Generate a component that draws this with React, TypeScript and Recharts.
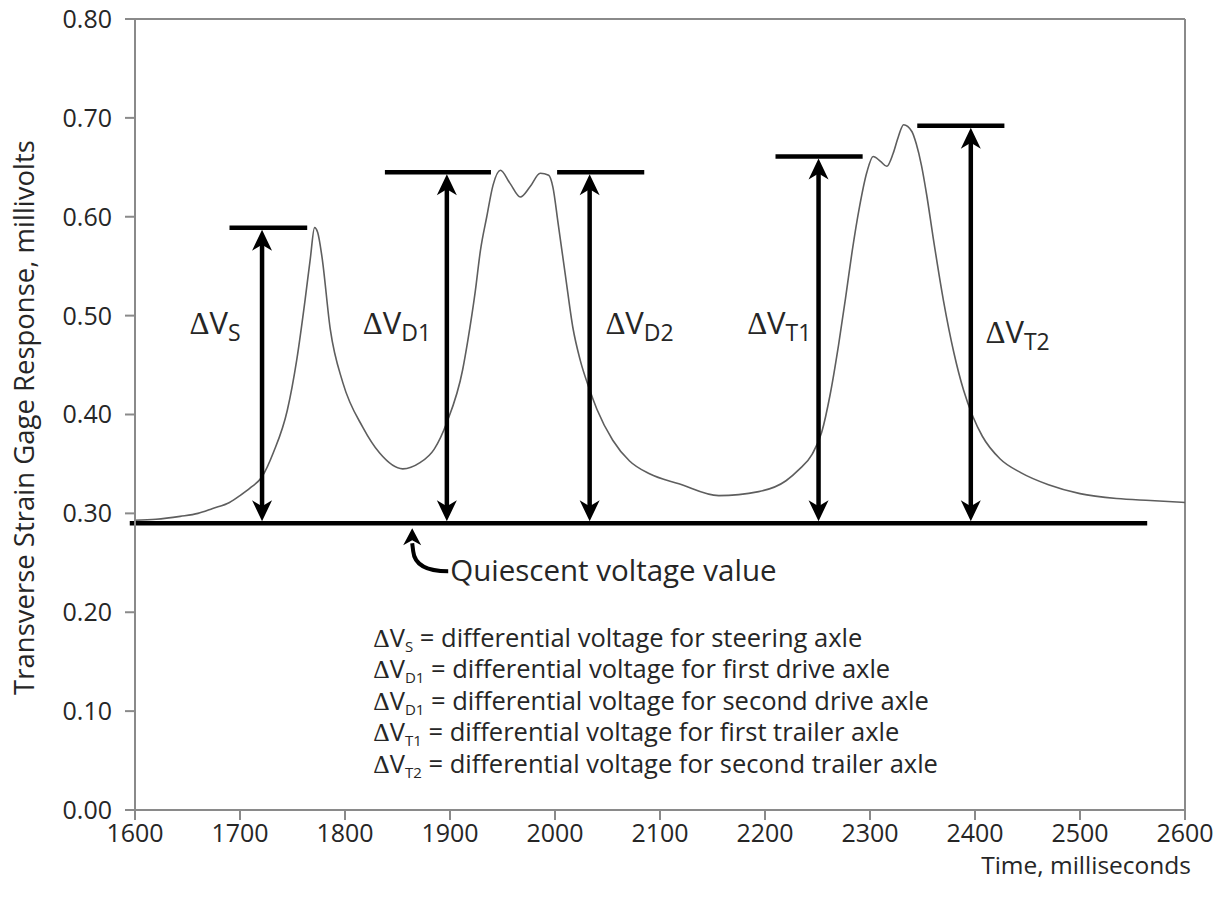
import { LineChart, Line, XAxis, YAxis, ReferenceLine, ReferenceDot } from "recharts"

// strain gage trace
const time = [
  1600, 1620, 1643, 1660, 1674, 1690, 1700, 1710, 1721, 1732,
  1745, 1754, 1762, 1767, 1771, 1774, 1778, 1786, 1798, 1817,
  1833, 1855, 1871, 1885, 1897, 1912, 1917, 1924, 1929, 1935,
  1941, 1948, 1957, 1967, 1976, 1986, 1994, 1998, 2003, 2010,
  2017, 2024, 2032, 2040, 2055, 2071, 2090, 2118, 2156, 2194,
  2220, 2232, 2245, 2254, 2262, 2270, 2277, 2283, 2290, 2297,
  2303, 2310, 2316, 2322, 2327, 2332, 2340, 2344, 2349, 2354,
  2360, 2370, 2380, 2389, 2398, 2407, 2424, 2444, 2470, 2500,
  2535, 2567, 2600,
]
const voltage = [
  0.293, 0.294, 0.297, 0.3, 0.305, 0.311, 0.318, 0.326, 0.337, 0.362,
  0.404, 0.455, 0.516, 0.558, 0.589, 0.584, 0.56, 0.486, 0.432, 0.387,
  0.361, 0.345, 0.351, 0.365, 0.392, 0.445, 0.475, 0.524, 0.566, 0.6,
  0.632, 0.647, 0.634, 0.62, 0.63, 0.644, 0.642, 0.63, 0.593, 0.54,
  0.488, 0.455, 0.428, 0.405, 0.374, 0.353, 0.34, 0.33, 0.318, 0.322,
  0.333, 0.344, 0.36, 0.382, 0.42, 0.47, 0.52, 0.565, 0.61, 0.645,
  0.661, 0.656, 0.651, 0.664, 0.681, 0.693, 0.686, 0.674, 0.652, 0.622,
  0.58, 0.515, 0.462, 0.425, 0.398, 0.378, 0.355, 0.341, 0.329, 0.32,
  0.315, 0.313, 0.311,
]

const xTicks = [1600, 1700, 1800, 1900, 2000, 2100, 2200, 2300, 2400, 2500, 2600]
const yTicks = [0, 0.1, 0.2, 0.3, 0.4, 0.5, 0.6, 0.7, 0.8]

// quiescent level and the axle markers
const quiescent = 0.29
const quiescentStart = 1595
const quiescentEnd = 2564
const arrowTimes = [1721, 1897, 2033, 2251, 2396]
const peakLevels = [0.589, 0.645, 0.645, 0.661, 0.692]
const barStarts = [1690, 1838, 2002, 2210, 2345]
const barEnds = [1764, 1939, 2085, 2293, 2428]

const markSubs = ["S", "D1", "D2", "T1", "T2"]
const markTimes = [1652, 1817, 2048, 2183, 2410]
const markLevels = [0.481, 0.481, 0.481, 0.481, 0.472]

const quiescentTime = 1864
const quiescentText = "Quiescent voltage value"

const legendTime = 1827
const legendLevel = 0.165
const legendSubs = ["S", "D1", "D1", "T1", "T2"]
const legendTexts = [
  "differential voltage for steering axle",
  "differential voltage for first drive axle",
  "differential voltage for second drive axle",
  "differential voltage for first trailer axle",
  "differential voltage for second trailer axle",
]

const data = time.map((t, i) => ({ t, v: voltage[i] }))

const FONT = "'Open Sans', sans-serif"
const SERIF = "'Liberation Serif', 'DejaVu Serif', serif"
const AXIS = "#8a8a8a"
const TEXT = "#262626"

const head = (x: number, y: number, dir: number, len = 21, notch = 15, half = 10) =>
  `M${x},${y} L${x - half},${y + dir * len} L${x},${y + dir * notch} L${x + half},${y + dir * len} Z`

const Arrow = (props: any) => {
  const { x1, y1, x2, y2 } = props
  const top = Math.min(y1, y2)
  const bottom = Math.max(y1, y2)
  return (
    <g>
      <line x1={x1} y1={bottom - 16} x2={x2} y2={top + 16} stroke="#000" strokeWidth={4.5} />
      <path d={head(x1, top + 2, 1)} fill="#000" />
      <path d={head(x1, bottom - 2, -1)} fill="#000" />
    </g>
  )
}

const markLabel = (sub: string) => (props: any) => {
  const { cx, cy } = props
  return (
    <text x={cx} y={cy} fill={TEXT} fontFamily={FONT} fontSize={31}>
      <tspan fontFamily={SERIF}>Δ</tspan>
      <tspan>V</tspan>
      <tspan fontSize={23} dy={7}>{sub}</tspan>
    </text>
  )
}

const QuiescentNote = (props: any) => {
  const { cx, cy } = props
  return (
    <g>
      <path
        d={`M${cx},${cy + 20} L${cx + 1},${cy + 28} Q${cx + 3},${cy + 48} ${cx + 36},${cy + 48}`}
        fill="none"
        stroke="#000"
        strokeWidth={4}
      />
      <path d={head(cx, cy + 5, 1, 17, 12, 9)} fill="#000" />
      <text x={cx + 38} y={cy + 58} fill={TEXT} fontFamily={FONT} fontSize={29.5}>
        {quiescentText}
      </text>
    </g>
  )
}

const Legend = (props: any) => {
  const { cx, cy } = props
  return (
    <g>
      {legendTexts.map((txt, i) => (
        <text key={i} x={cx} y={cy + i * 31.5} fill={TEXT} fontFamily={FONT} fontSize={25.5}>
          <tspan fontFamily={SERIF}>Δ</tspan>
          <tspan>V</tspan>
          <tspan fontSize={15} dy={5}>{legendSubs[i]}</tspan>
          <tspan dy={-5}> = {txt}</tspan>
        </text>
      ))}
    </g>
  )
}

export default function App() {
  return (
    <div style={{ position: "absolute", left: 0, top: 0, background: "#fff" }}>
      <LineChart width={1225} height={907} data={data} margin={{ top: 19, right: 40, bottom: 0, left: 55 }}>
        <XAxis
          dataKey="t"
          type="number"
          domain={[1600, 2600]}
          ticks={xTicks}
          interval={0}
          height={97}
          tickSize={10}
          tickMargin={4}
          stroke={AXIS}
          strokeWidth={2}
          tick={{ fill: TEXT, fontSize: 25, fontFamily: FONT }}
          label={{
            content: ({ viewBox }: any) => (
              <text x={viewBox.x + viewBox.width + 6} y={viewBox.y + 64} textAnchor="end" fill={TEXT} fontFamily={FONT} fontSize={24.5}>
                Time, milliseconds
              </text>
            ),
          }}
        />
        <YAxis
          type="number"
          domain={[0, 0.8]}
          ticks={yTicks}
          interval={0}
          width={80}
          tickSize={10}
          tickMargin={13}
          stroke={AXIS}
          strokeWidth={2}
          tickFormatter={(v: number) => v.toFixed(2)}
          tick={{ fill: TEXT, fontSize: 25, fontFamily: FONT }}
          label={{
            content: ({ viewBox }: any) => {
              const cy = viewBox.y + viewBox.height / 2 + 3
              return (
                <text x={23} y={cy} transform={`rotate(-90 23 ${cy})`} textAnchor="middle" dominantBaseline="central" fill={TEXT} fontFamily={FONT} fontSize={27.5}>
                  Transverse Strain Gage Response, millivolts
                </text>
              )
            },
          }}
        />
        <ReferenceLine y={0.8} stroke={AXIS} strokeWidth={2} ifOverflow="visible" />
        <ReferenceLine x={2600} stroke={AXIS} strokeWidth={2} ifOverflow="visible" />

        <Line
          type="monotone"
          dataKey="v"
          stroke="#5e5e5e"
          strokeWidth={1.6}
          dot={false}
          isAnimationActive={false}
        />

        <ReferenceLine
          segment={[{ x: quiescentStart, y: quiescent }, { x: quiescentEnd, y: quiescent }]}
          stroke="#000"
          strokeWidth={4.5}
          ifOverflow="visible"
        />
        {arrowTimes.map((t, i) => (
          <ReferenceLine
            key={`bar${i}`}
            segment={[{ x: barStarts[i], y: peakLevels[i] }, { x: barEnds[i], y: peakLevels[i] }]}
            stroke="#000"
            strokeWidth={4.5}
          />
        ))}
        {arrowTimes.map((t, i) => (
          <ReferenceLine
            key={`arrow${i}`}
            segment={[{ x: t, y: quiescent }, { x: t, y: peakLevels[i] }]}
            shape={Arrow}
          />
        ))}
        {markTimes.map((t, i) => (
          <ReferenceDot key={`lbl${i}`} x={t} y={markLevels[i]} r={1} shape={markLabel(markSubs[i])} />
        ))}
        <ReferenceDot x={quiescentTime} y={quiescent} r={1} shape={QuiescentNote} />
        <ReferenceDot x={legendTime} y={legendLevel} r={1} shape={Legend} />
      </LineChart>
    </div>
  )
}
